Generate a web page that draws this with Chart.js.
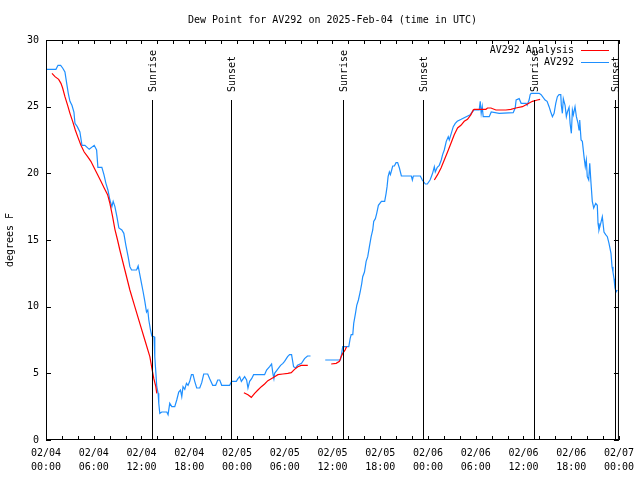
<!DOCTYPE html>
<html>
<head>
<meta charset="utf-8">
<script src="https://cdn.jsdelivr.net/npm/chart.js@4/dist/chart.umd.min.js"></script>
<style>
  html, body { margin: 0; padding: 0; background: #fff; }
  #wrap { width: 640px; height: 480px; }
</style>
</head>
<body>
<div id="wrap"><canvas id="dewChart" width="640" height="480"></canvas></div>
<script>
// hours since 02/04 00:00 UTC, null = gap
const obsHours = [0.00,1.25,1.51,1.84,2.09,2.38,2.60,2.80,3.01,3.26,3.51,3.64,3.93,4.26,4.52,4.89,5.43,6.06,6.36,6.52,7.02,7.28,7.53,7.78,8.03,8.28,8.44,8.66,8.91,9.16,9.53,9.78,10.04,10.32,10.54,10.75,11.38,11.58,11.79,12.00,12.21,12.42,12.63,12.79,12.92,13.13,13.30,13.58,13.67,13.80,13.92,14.09,14.17,14.30,14.55,15.18,15.34,15.55,15.81,16.18,16.43,16.68,16.90,17.06,17.22,17.44,17.65,17.85,18.06,18.28,18.48,18.69,18.94,19.32,19.57,19.82,20.32,20.57,20.95,21.32,21.58,21.83,22.08,23.08,23.33,23.92,24.12,24.34,24.55,24.96,25.21,25.38,25.59,25.84,26.09,27.47,27.72,28.10,28.35,28.51,28.64,28.73,29.10,29.48,29.77,29.98,30.36,30.61,30.86,31.11,31.36,31.61,32.11,32.49,32.86,33.24,
  34.00,
  35.09,37.00,37.13,37.29,38.05,38.22,38.35,38.55,38.67,38.89,39.05,39.26,39.48,39.68,39.80,40.02,40.23,40.43,40.64,40.86,41.06,41.18,41.39,41.56,41.77,42.15,42.56,42.74,42.86,42.99,43.15,43.28,43.44,43.57,43.78,43.99,44.19,44.41,44.66,45.91,46.04,46.16,47.04,47.29,47.67,47.92,48.26,48.42,48.58,48.80,48.92,49.17,49.42,49.67,49.84,50.05,50.30,50.55,50.68,50.93,51.18,51.43,51.68,52.18,52.81,53.31,53.56,53.78,54.44,54.57,54.69,54.82,54.94,55.70,55.95,56.95,58.71,58.96,59.08,59.46,59.71,60.34,60.46,60.71,60.84,60.96,61.97,62.22,62.72,62.97,63.22,63.43,63.64,63.85,64.06,64.26,64.47,64.69,64.76,64.89,65.01,65.23,65.39,65.52,65.73,65.86,66.02,66.15,66.27,66.48,66.65,66.86,66.98,67.07,67.24,67.40,67.61,67.77,67.90,68.02,68.20,68.33,68.49,68.65,68.83,69.08,69.28,69.37,69.49,69.71,69.91,70.12,70.33,70.54,70.75,71.00,71.13,71.25,71.38,71.50,71.63,71.79];
const obsDew = [27.8,27.8,28.1,28.1,27.9,27.6,26.75,26.0,25.4,25.1,24.6,23.75,23.5,23.1,22.1,22.1,21.8,22.1,21.75,20.45,20.45,19.9,19.25,18.75,18.0,17.5,17.9,17.5,16.75,15.9,15.75,15.5,14.6,13.75,13.0,12.75,12.75,13.05,12.4,11.75,11.1,10.4,9.6,9.75,9.0,8.25,7.8,7.75,6.25,5.1,4.0,3.5,2.75,2.0,2.1,2.1,1.9,2.75,2.5,2.5,3.0,3.6,3.75,3.25,4.0,3.8,4.25,4.1,4.4,4.9,4.9,4.4,3.9,3.9,4.3,4.95,4.95,4.6,4.1,4.1,4.5,4.5,4.1,4.1,4.4,4.4,4.6,4.75,4.4,4.75,4.5,3.9,4.4,4.6,4.9,4.9,5.25,5.5,5.7,5.0,4.6,5.0,5.3,5.6,5.75,5.9,6.25,6.4,6.4,5.5,5.4,5.6,5.75,6.1,6.3,6.3,
  null,
  6.0,6.0,6.4,7.0,7.0,7.6,7.9,7.9,8.75,9.5,10.1,10.5,11.1,11.75,12.25,12.6,13.4,13.75,14.5,15.25,15.75,16.4,16.6,17.0,17.6,17.9,17.9,18.5,19.0,19.75,20.1,19.9,20.25,20.55,20.55,20.8,20.8,20.4,19.8,19.8,19.5,19.8,19.8,19.5,19.2,19.2,19.5,19.75,20.0,20.5,20.1,20.45,20.6,21.0,21.4,21.75,22.4,22.75,22.5,23.0,23.5,23.75,23.9,24.05,24.25,24.4,24.6,24.75,24.75,25.4,24.5,25.0,24.25,24.25,24.6,24.5,24.55,24.9,25.5,25.6,25.25,25.25,25.1,25.5,25.9,26.0,26.0,25.9,25.5,25.4,25.0,24.6,24.25,24.5,25.25,25.75,25.9,25.9,25.1,24.5,25.6,25.1,24.25,24.6,24.95,23.75,23.0,24.75,24.4,25.0,24.25,23.75,23.25,24.0,22.5,22.4,21.25,20.5,21.0,19.75,19.5,20.75,19.25,17.9,17.4,17.75,17.6,16.25,15.75,16.25,16.75,15.6,15.4,15.25,14.75,14.0,13.0,12.6,12.1,11.4,11.1,11.25];

const anaHours = [0.75,1.13,1.59,1.88,2.09,2.38,2.72,3.01,3.35,3.68,3.98,4.39,4.80,5.23,5.64,6.06,6.49,6.90,7.31,7.74,8.03,8.37,8.66,8.99,9.28,9.91,10.54,11.16,11.79,12.42,13.05,13.30,13.55,13.80,13.92,
  20.00,
  24.87,25.38,25.80,26.22,26.63,27.06,27.47,27.88,28.31,28.73,29.14,29.77,30.39,30.82,31.23,31.65,32.07,32.90,
  34.00,
  35.84,36.46,36.88,37.09,37.29,37.59,37.76,
  42.00,
  48.80,49.21,49.64,50.05,50.46,50.89,51.30,51.72,52.14,52.56,52.97,53.40,53.69,53.81,55.28,55.48,55.91,56.54,57.79,58.42,59.04,59.87,60.50,61.13,61.75,62.09];
const anaDew = [27.5,27.25,27.05,26.75,26.4,25.75,25.1,24.5,23.9,23.25,22.75,22.1,21.6,21.25,20.9,20.4,19.9,19.4,18.9,18.4,17.75,16.75,15.8,15.0,14.25,12.75,11.25,10.0,8.75,7.5,6.25,5.4,4.6,4.0,3.5,
  null,
  3.55,3.4,3.2,3.5,3.75,4.0,4.2,4.45,4.6,4.75,4.9,4.95,5.0,5.05,5.3,5.5,5.6,5.6,
  null,
  5.7,5.75,5.9,6.25,6.5,6.75,7.0,
  null,
  19.5,19.9,20.4,21.0,21.6,22.25,22.9,23.4,23.6,23.9,24.05,24.4,24.75,24.8,24.8,24.9,24.9,24.75,24.75,24.8,24.9,25.0,25.2,25.4,25.5,25.55];

const eventHours = [13.33, 23.26, 37.29, 47.33, 61.38, 71.48];
const eventNames = ['Sunrise', 'Sunset', 'Sunrise', 'Sunset', 'Sunrise', 'Sunset'];
const eventTop = 25.5;

const dayLabels = ['02/04', '02/05', '02/06', '02/07'];
const hourLabels = ['00:00', '06:00', '12:00', '18:00'];

const FONT = 'DejaVu Sans Mono';
const pts = (hs, vs) => hs.map((h, i) => ({ x: h, y: vs[i] }));

// ticks inside the frame, mirrored, plus frame, events, title and legend
const gnuplotDeco = {
    id: 'gnuplotDeco',
    afterDatasetsDraw(chart) {
        const ctx = chart.ctx;
        const a = chart.chartArea;
        const xs = chart.scales.x, ys = chart.scales.y;
        ctx.save();
        ctx.strokeStyle = '#000';
        ctx.lineWidth = 1;

        // sunrise / sunset lines
        ctx.font = '10px ' + FONT;
        ctx.fillStyle = '#000';
        eventHours.forEach((h, i) => {
            const px = Math.round(xs.getPixelForValue(h)) + 0.5;
            const top = ys.getPixelForValue(eventTop);
            ctx.beginPath();
            ctx.moveTo(px, top);
            ctx.lineTo(px, a.bottom);
            ctx.stroke();
            ctx.save();
            ctx.translate(px + 1, top - 8);
            ctx.rotate(-Math.PI / 2);
            ctx.textAlign = 'left';
            ctx.textBaseline = 'middle';
            ctx.fillText(eventNames[i], 0, 0);
            ctx.restore();
        });

        // frame
        ctx.strokeRect(a.left + 0.5, a.top + 0.5, a.right - a.left - 1, a.bottom - a.top - 1);

        // tick marks
        ctx.beginPath();
        xs.ticks.forEach(t => {
            const px = Math.round(xs.getPixelForValue(t.value)) + 0.5;
            ctx.moveTo(px, a.bottom); ctx.lineTo(px, a.bottom - 4);
            ctx.moveTo(px, a.top); ctx.lineTo(px, a.top + 4);
        });
        ys.ticks.forEach(t => {
            const py = Math.round(ys.getPixelForValue(t.value)) + 0.5;
            ctx.moveTo(a.left, py); ctx.lineTo(a.left + 5, py);
            ctx.moveTo(a.right, py); ctx.lineTo(a.right - 5, py);
        });
        ctx.stroke();

        // title
        ctx.textAlign = 'center';
        ctx.textBaseline = 'middle';
        ctx.fillText('Dew Point for AV292 on 2025-Feb-04 (time in UTC)', (a.left + a.right) / 2, 20);

        // legend
        ctx.textAlign = 'right';
        chart.data.datasets.forEach((ds, i) => {
            const y = 50 + i * 12;
            ctx.fillStyle = '#000';
            ctx.fillText(ds.label, 574, y);
            ctx.strokeStyle = ds.borderColor;
            ctx.beginPath();
            ctx.moveTo(581, y + 0.5);
            ctx.lineTo(609, y + 0.5);
            ctx.stroke();
        });
        ctx.restore();
    }
};

Chart.defaults.font.family = FONT;
Chart.defaults.font.size = 10;
Chart.defaults.color = '#000';

new Chart(document.getElementById('dewChart'), {
    type: 'line',
    data: {
        datasets: [
            {
                label: 'AV292 Analysis',
                data: pts(anaHours, anaDew),
                borderColor: '#ff0000',
                borderWidth: 1.2,
                pointRadius: 0,
                spanGaps: false,
                tension: 0
            },
            {
                label: 'AV292',
                data: pts(obsHours, obsDew),
                borderColor: '#1e8fff',
                borderWidth: 1.2,
                pointRadius: 0,
                spanGaps: false,
                tension: 0
            }
        ]
    },
    options: {
        responsive: false,
        animation: false,
        layout: { padding: { top: 40, right: 20, left: 0, bottom: 0 } },
        plugins: { legend: { display: false }, title: { display: false }, tooltip: { enabled: false } },
        scales: {
            x: {
                type: 'linear',
                min: 0,
                max: 72,
                grid: { display: false, drawTicks: false },
                border: { display: false },
                ticks: {
                    stepSize: 2,
                    autoSkip: false,
                    maxRotation: 0,
                    padding: 6,
                    font: { size: 10, lineHeight: 1.4 },
                    callback: v => v % 6 === 0 ? [dayLabels[Math.floor(v / 24)], hourLabels[(v % 24) / 6]] : ''
                },
                afterFit: s => { s.height = 40; }
            },
            y: {
                min: 0,
                max: 30,
                grid: { display: false, drawTicks: false },
                border: { display: false },
                ticks: { stepSize: 5, padding: 7 },
                title: { display: true, text: 'degrees F', padding: { top: 4, bottom: 0 } },
                afterFit: s => { s.width = 46; }
            }
        }
    },
    plugins: [gnuplotDeco]
});
</script>
</body>
</html>
